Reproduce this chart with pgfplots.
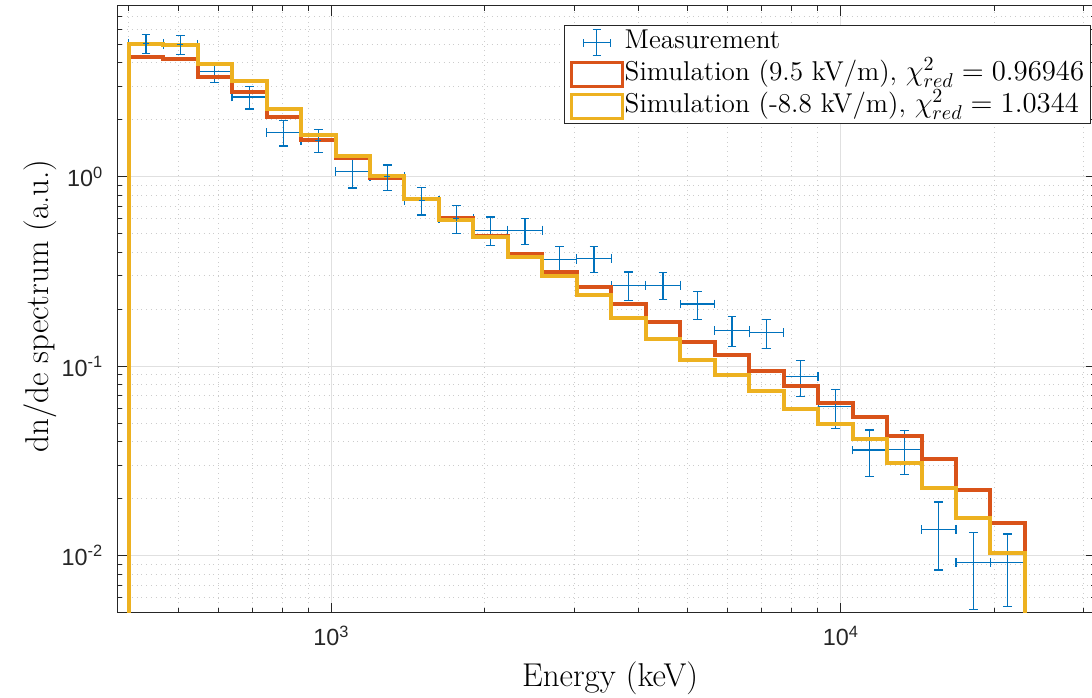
\documentclass[border=0pt]{standalone}
\usepackage{pgfplots}
\pgfplotsset{compat=1.18}
\usepackage{pgfplotstable}
\usepackage{fontspec}
\newfontfamily\tickfont{Liberation Sans}
\definecolor{mblue}{rgb}{0,0.447,0.741}
\definecolor{mred}{rgb}{0.85,0.325,0.098}
\definecolor{myellow}{rgb}{0.929,0.694,0.125}
\definecolor{axgray}{rgb}{0.15,0.15,0.15}

\pgfplotstableread{
x y ey xp xm
432.4 5.06 0.60 0.081 0.0749
505.3 5.00 0.56 0.081 0.0749
590.5 3.58 0.43 0.081 0.0749
690.0 2.64 0.36 0.081 0.0749
806.4 1.715 0.26 0.081 0.0749
942.4 1.56 0.22 0.081 0.0749
1101.3 1.063 0.19 0.081 0.0749
1286.9 1.00 0.155 0.081 0.0749
1503.9 0.753 0.125 0.081 0.0749
1757.5 0.603 0.10 0.081 0.0749
2053.8 0.523 0.09 0.081 0.0749
2400.0 0.523 0.082 0.081 0.0749
2804.7 0.367 0.062 0.081 0.0749
3277.5 0.371 0.058 0.081 0.0749
3830.1 0.268 0.046 0.081 0.0749
4475.9 0.268 0.044 0.081 0.0749
5230.5 0.213 0.036 0.081 0.0749
6112.4 0.155 0.028 0.081 0.0749
7143.0 0.150 0.026 0.081 0.0749
8347.3 0.088 0.019 0.081 0.0749
9754.6 0.0611 0.014 0.081 0.0749
11399 0.0361 0.010 0.081 0.0749
13321 0.0362 0.0095 0.081 0.0749
15567 0.0138 0.0054 0.081 0.0749
18192 0.0092 0.0040 0.081 0.0749
21259 0.0092 0.0038 0.081 0.0749
}\meas

\pgfplotstableread{
x y
400 0.001
400 4.27
467.4 4.20
546.3 3.35
638.4 2.81
746.0 2.07
871.8 1.56
1018.7 1.25
1190.5 0.99
1391.2 0.76
1625.8 0.605
1899.9 0.486
2220.2 0.391
2594.5 0.315
3031.9 0.261
3543.1 0.212
4140.5 0.172
4838.6 0.1346
5654.4 0.1150
6607.7 0.0945
7721.8 0.0786
9023.7 0.0637
10545 0.0539
12323 0.0427
14401 0.0323
16829 0.0222
19666 0.0148
22982 0.0148
22982 0.001
}\simA

\pgfplotstableread{
x y
400 0.001
400 5.01
467.4 4.98
546.3 3.93
638.4 3.21
746.0 2.27
871.8 1.66
1018.7 1.29
1190.5 1.01
1391.2 0.765
1625.8 0.595
1899.9 0.479
2220.2 0.379
2594.5 0.298
3031.9 0.2375
3543.1 0.179
4140.5 0.139
4838.6 0.108
5654.4 0.090
6607.7 0.0743
7721.8 0.0592
9023.7 0.0495
10545 0.0411
12323 0.0307
14401 0.0227
16829 0.01575
19666 0.0103
22982 0.0103
22982 0.001
}\simB

\begin{document}
\begin{tikzpicture}
\begin{axis}[
  name=ax,
  scale only axis,
  width=489.1pt, height=303.5pt,
  xmode=log, ymode=log,
  xmin=380, xmax=31623,
  ymin=0.005, ymax=8,
  axis line style={axgray, line width=0.5pt},
  every tick/.style={axgray, line width=0.5pt},
  major tick length=5pt, minor tick length=2.5pt,
  xtick={1000,10000},
  xticklabels={10\textsuperscript{3},10\textsuperscript{4}},
  minor xtick={400,500,600,700,800,900,2000,3000,4000,5000,6000,7000,8000,9000,20000,30000},
  ytick={0.01,0.1,1},
  yticklabels={10\textsuperscript{-2},10\textsuperscript{-1},10\textsuperscript{0}},
  minor ytick={0.006,0.007,0.008,0.009,0.02,0.03,0.04,0.05,0.06,0.07,0.08,0.09,0.2,0.3,0.4,0.5,0.6,0.7,0.8,0.9,2,3,4,5,6,7,8},
  ticklabel style={font=\tickfont\fontsize{11.7}{14}\selectfont, text=axgray},
  xticklabel style={yshift=-3pt},
  yticklabel style={xshift=-3.5pt},
  grid=both,
  major grid style={black!12, line width=0.5pt},
  minor grid style={black!20, dotted, line width=0.5pt},
  xlabel={Energy (keV)},
  ylabel={dn/de spectrum (a.u.)},
  label style={font=\fontsize{16.5}{19}\selectfont},
  xlabel style={at={(axis description cs:0.5037,-0.1076)}, anchor=center},
  ylabel style={at={(axis description cs:-0.079,0.505)}, anchor=center, rotate=0},
  legend cell align=left,
  legend style={at={(axis description cs:0.9951,0.968)}, anchor=north east,
    draw=axgray, line width=0.5pt, fill=white,
    font=\fontsize{13.6}{16}\selectfont,
    inner xsep=2.5pt, inner ysep=0.5pt, row sep=0pt,
    nodes={inner sep=0.5pt, text height=10.5pt, text depth=4.5pt}},
]
\addplot[mblue, only marks, mark=+, mark size=1.5pt, line width=0.6pt,
  legend image code/.code={
    \path (0pt,0pt) (25.5pt,0pt);
    \draw[mblue, line width=0.6pt] (6pt,0pt) -- (19.5pt,0pt) (12.75pt,-6.5pt) -- (12.75pt,6.5pt)
      (6pt,-2pt) -- (6pt,2pt) (19.5pt,-2pt) -- (19.5pt,2pt)
      (10.75pt,-6.5pt) -- (14.75pt,-6.5pt) (10.75pt,6.5pt) -- (14.75pt,6.5pt);},
  error bars/.cd, x dir=both, x explicit relative, y dir=both, y explicit,
  error bar style={line width=0.6pt, mblue},
  error mark=-,
  error mark options={rotate=90, mblue, mark size=2.2pt, line width=0.6pt}
] table[x=x, y=y, x error plus=xp, x error minus=xm, y error=ey]{\meas};
\addlegendentry{Measurement}
\addplot[mred, line width=2pt, const plot,
  legend image code/.code={\draw[mred, line width=1.5pt] (0pt,-6pt) rectangle (25.5pt,6pt);}
] table[x=x, y=y]{\simA};
\addlegendentry{Simulation (9.5 kV/m), $\chi^2_{red} = 0.96946$}
\addplot[myellow, line width=2pt, const plot,
  legend image code/.code={\draw[myellow, line width=1.5pt] (0pt,-6pt) rectangle (25.5pt,6pt);}
] table[x=x, y=y]{\simB};
\addlegendentry{Simulation (-8.8 kV/m), $\chi^2_{red} = 1.0344$}
\end{axis}
\pgfresetboundingbox
\path[use as bounding box] (ax.south west) ++(-58.65pt,-42.15pt) rectangle ++(546pt,348.5pt);
\end{tikzpicture}
\end{document}
